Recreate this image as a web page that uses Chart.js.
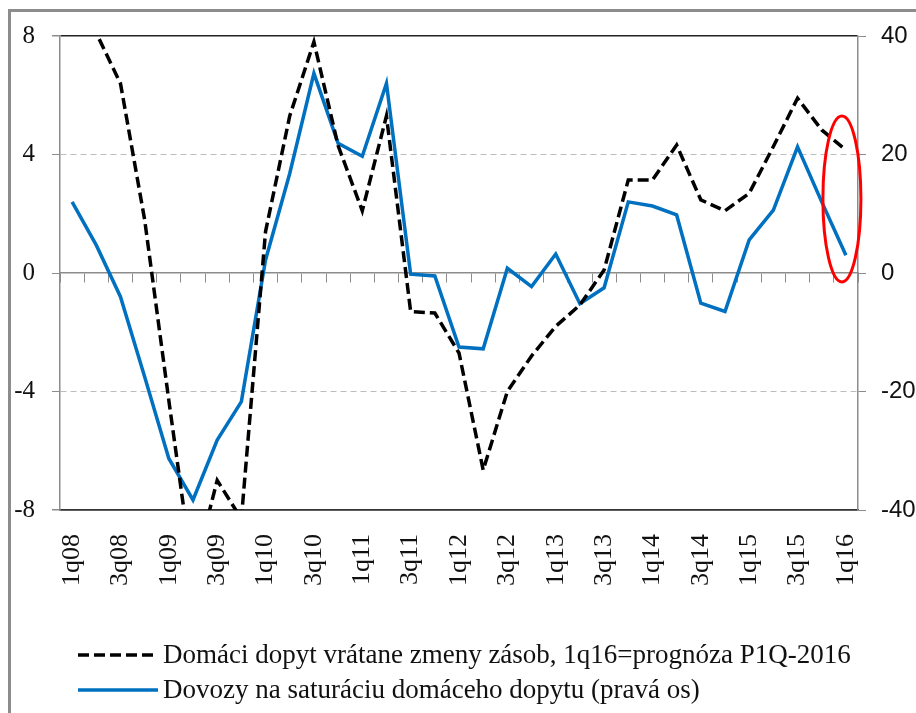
<!DOCTYPE html>
<html>

<head>
    <meta charset="utf-8">
    <script src="https://cdn.jsdelivr.net/npm/chart.js@4.4.0/dist/chart.umd.min.js"></script>
</head>

<style>
    body {
        margin: 0;
        background: white;
        overflow: hidden;
    }

    .frame {
        position: absolute;
        left: 8px;
        top: 9px;
        width: 1000px;
        height: 1000px;
        border: 3px solid #8c8c8c;
    }

    .holder {
        position: absolute;
        left: 0;
        top: 0;
        width: 916px;
        height: 713px;
    }
</style>

<body>
    <div class="frame"></div>
    <div class="holder">
        <canvas id="myChart" width="916" height="713"></canvas>
    </div>
</body>

<script>
    var quarters = ['1q08', '2q08', '3q08', '4q08', '1q09', '2q09', '3q09', '4q09',
        '1q10', '2q10', '3q10', '4q10', '1q11', '2q11', '3q11', '4q11',
        '1q12', '2q12', '3q12', '4q12', '1q13', '2q13', '3q13', '4q13',
        '1q14', '2q14', '3q14', '4q14', '1q15', '2q15', '3q15', '4q15', '1q16'];

    // left axis
    var domesticDemand = [11.0, 8.1, 6.4, 1.8, -4.3, -10.2, -7.0, -8.3,
        1.4, 5.3, 7.8, 4.3, 2.1, 5.3, -1.3, -1.35,
        -2.7, -6.65, -4.0, -2.8, -1.8, -1.08, 0.1, 3.14,
        3.14, 4.32, 2.47, 2.1, 2.69, 4.27, 5.9, 4.83, 4.15];

    // right axis
    var imports = [12.0, 4.7, -4.0, -17.5, -31.3, -38.3, -28.2, -21.7,
        2.2, 16.8, 33.7, 21.9, 19.7, 32.0, -0.2, -0.5,
        -12.5, -12.8, 0.8, -2.3, 3.2, -5.2, -2.5, 12.0,
        11.3, 9.8, -5.1, -6.5, 5.6, 10.6, 21.3, 12.0, 3.0];

    var seriesNames = ['Domáci dopyt vrátane zmeny zásob, 1q16=prognóza P1Q-2016',
        'Dovozy na saturáciu domáceho dopytu (pravá os)'];

    var leftTicks = [-8, -4, 0, 4, 8];
    var rightTicks = [-40, -20, 0, 20, 40];

    var serif = 'Liberation Serif';
    var sans = 'Liberation Sans';
    var axisGray = '#8c8c8c';

    function isEdge(c) {
        var v = c.tick ? c.tick.value : null;
        return v === leftTicks[0] || v === leftTicks[leftTicks.length - 1];
    }

    // legend drawn under the x labels, left aligned like the original
    var legendPlugin = {
        id: 'legendLeft',
        afterDraw: function (chart) {
            var ctx = chart.ctx;
            var rows = [655, 690];
            chart.data.datasets.forEach(function (ds, i) {
                ctx.save();
                ctx.strokeStyle = ds.borderColor;
                ctx.lineWidth = ds.borderWidth;
                ctx.setLineDash(ds.borderDash || []);
                ctx.beginPath();
                ctx.moveTo(78, rows[i]);
                ctx.lineTo(158, rows[i]);
                ctx.stroke();
                ctx.setLineDash([]);
                ctx.fillStyle = '#111';
                ctx.font = '27px "' + serif + '"';
                ctx.textBaseline = 'middle';
                ctx.fillText(ds.label, 163, rows[i] + 1);
                ctx.restore();
            });
        }
    };

    // red ellipse around the forecast quarter
    var ellipsePlugin = {
        id: 'ellipse',
        afterDatasetsDraw: function (chart) {
            var ctx = chart.ctx;
            var x = chart.scales.x.getPixelForValue(quarters.length - 1) - 4;
            var top = chart.scales.y.getPixelForValue(5.3);
            var bottom = chart.scales.y.getPixelForValue(-0.3);
            ctx.save();
            ctx.strokeStyle = '#ff0000';
            ctx.lineWidth = 3;
            ctx.beginPath();
            ctx.ellipse(x, (top + bottom) / 2, 19, (bottom - top) / 2, 0, 0, Math.PI * 2);
            ctx.stroke();
            ctx.restore();
        }
    };

    var ctx = document.getElementById('myChart').getContext('2d');
    var chart = new Chart(ctx, {
        type: 'line',
        data: {
            labels: quarters,
            datasets: [{
                label: seriesNames[0],
                data: domesticDemand,
                yAxisID: 'y',
                borderColor: '#000000',
                borderWidth: 3.5,
                borderDash: [11, 5],
                pointRadius: 0,
                tension: 0,
                clip: 0
            }, {
                label: seriesNames[1],
                data: imports,
                yAxisID: 'y1',
                borderColor: '#0070c0',
                borderWidth: 3.5,
                pointRadius: 0,
                tension: 0,
                clip: 0
            }]
        },
        options: {
            responsive: false,
            animation: false,
            layout: {
                padding: { left: 10, right: 0, top: 36, bottom: 0 }
            },
            plugins: {
                legend: { display: false },
                tooltip: { enabled: false }
            },
            scales: {
                x: {
                    type: 'category',
                    offset: true,
                    grid: { display: false },
                    border: { display: true, color: '#333', width: 1.5 },
                    ticks: {
                        autoSkip: false,
                        minRotation: 90,
                        maxRotation: 90,
                        padding: 16,
                        color: '#111',
                        font: { family: serif, size: 26 },
                        callback: function (val, i) {
                            return i % 2 === 0 ? quarters[i] : '';
                        }
                    },
                    afterFit: function (s) { s.height = 203; }
                },
                xZero: {
                    type: 'category',
                    position: { y: 0 },
                    offset: true,
                    grid: {
                        offset: true,
                        drawOnChartArea: false,
                        drawTicks: true,
                        tickLength: 9,
                        color: axisGray
                    },
                    border: { display: true, color: axisGray, width: 1.5 },
                    ticks: { display: false }
                },
                y: {
                    position: 'left',
                    min: leftTicks[0],
                    max: leftTicks[leftTicks.length - 1],
                    afterBuildTicks: function (s) {
                        s.ticks = leftTicks.map(function (v) { return { value: v }; });
                    },
                    grid: {
                        color: function (c) {
                            if (isEdge(c)) return '#222';
                            if (c.tick && c.tick.value === 0) return 'rgba(0,0,0,0)';
                            return '#bdbdbd';
                        },
                        lineWidth: function (c) {
                            return isEdge(c) ? 1.5 : 1;
                        },
                        tickColor: axisGray,
                        tickLength: 8
                    },
                    border: {
                        display: true,
                        color: axisGray,
                        width: 1.5,
                        dash: function (c) {
                            return isEdge(c) ? [] : [6, 4];
                        }
                    },
                    ticks: {
                        padding: 17,
                        color: '#111',
                        font: { family: serif, size: 25 }
                    },
                    afterFit: function (s) { s.width = 50; }
                },
                y1: {
                    position: 'right',
                    min: rightTicks[0],
                    max: rightTicks[rightTicks.length - 1],
                    afterBuildTicks: function (s) {
                        s.ticks = rightTicks.map(function (v) { return { value: v }; });
                    },
                    grid: {
                        drawOnChartArea: false,
                        color: axisGray,
                        tickLength: 8
                    },
                    border: { display: true, color: axisGray, width: 1.5 },
                    ticks: {
                        padding: 15,
                        color: '#111',
                        font: { family: sans, size: 24 }
                    },
                    afterFit: function (s) { s.width = 58; }
                }
            }
        },
        plugins: [legendPlugin, ellipsePlugin]
    });
</script>

</html>
